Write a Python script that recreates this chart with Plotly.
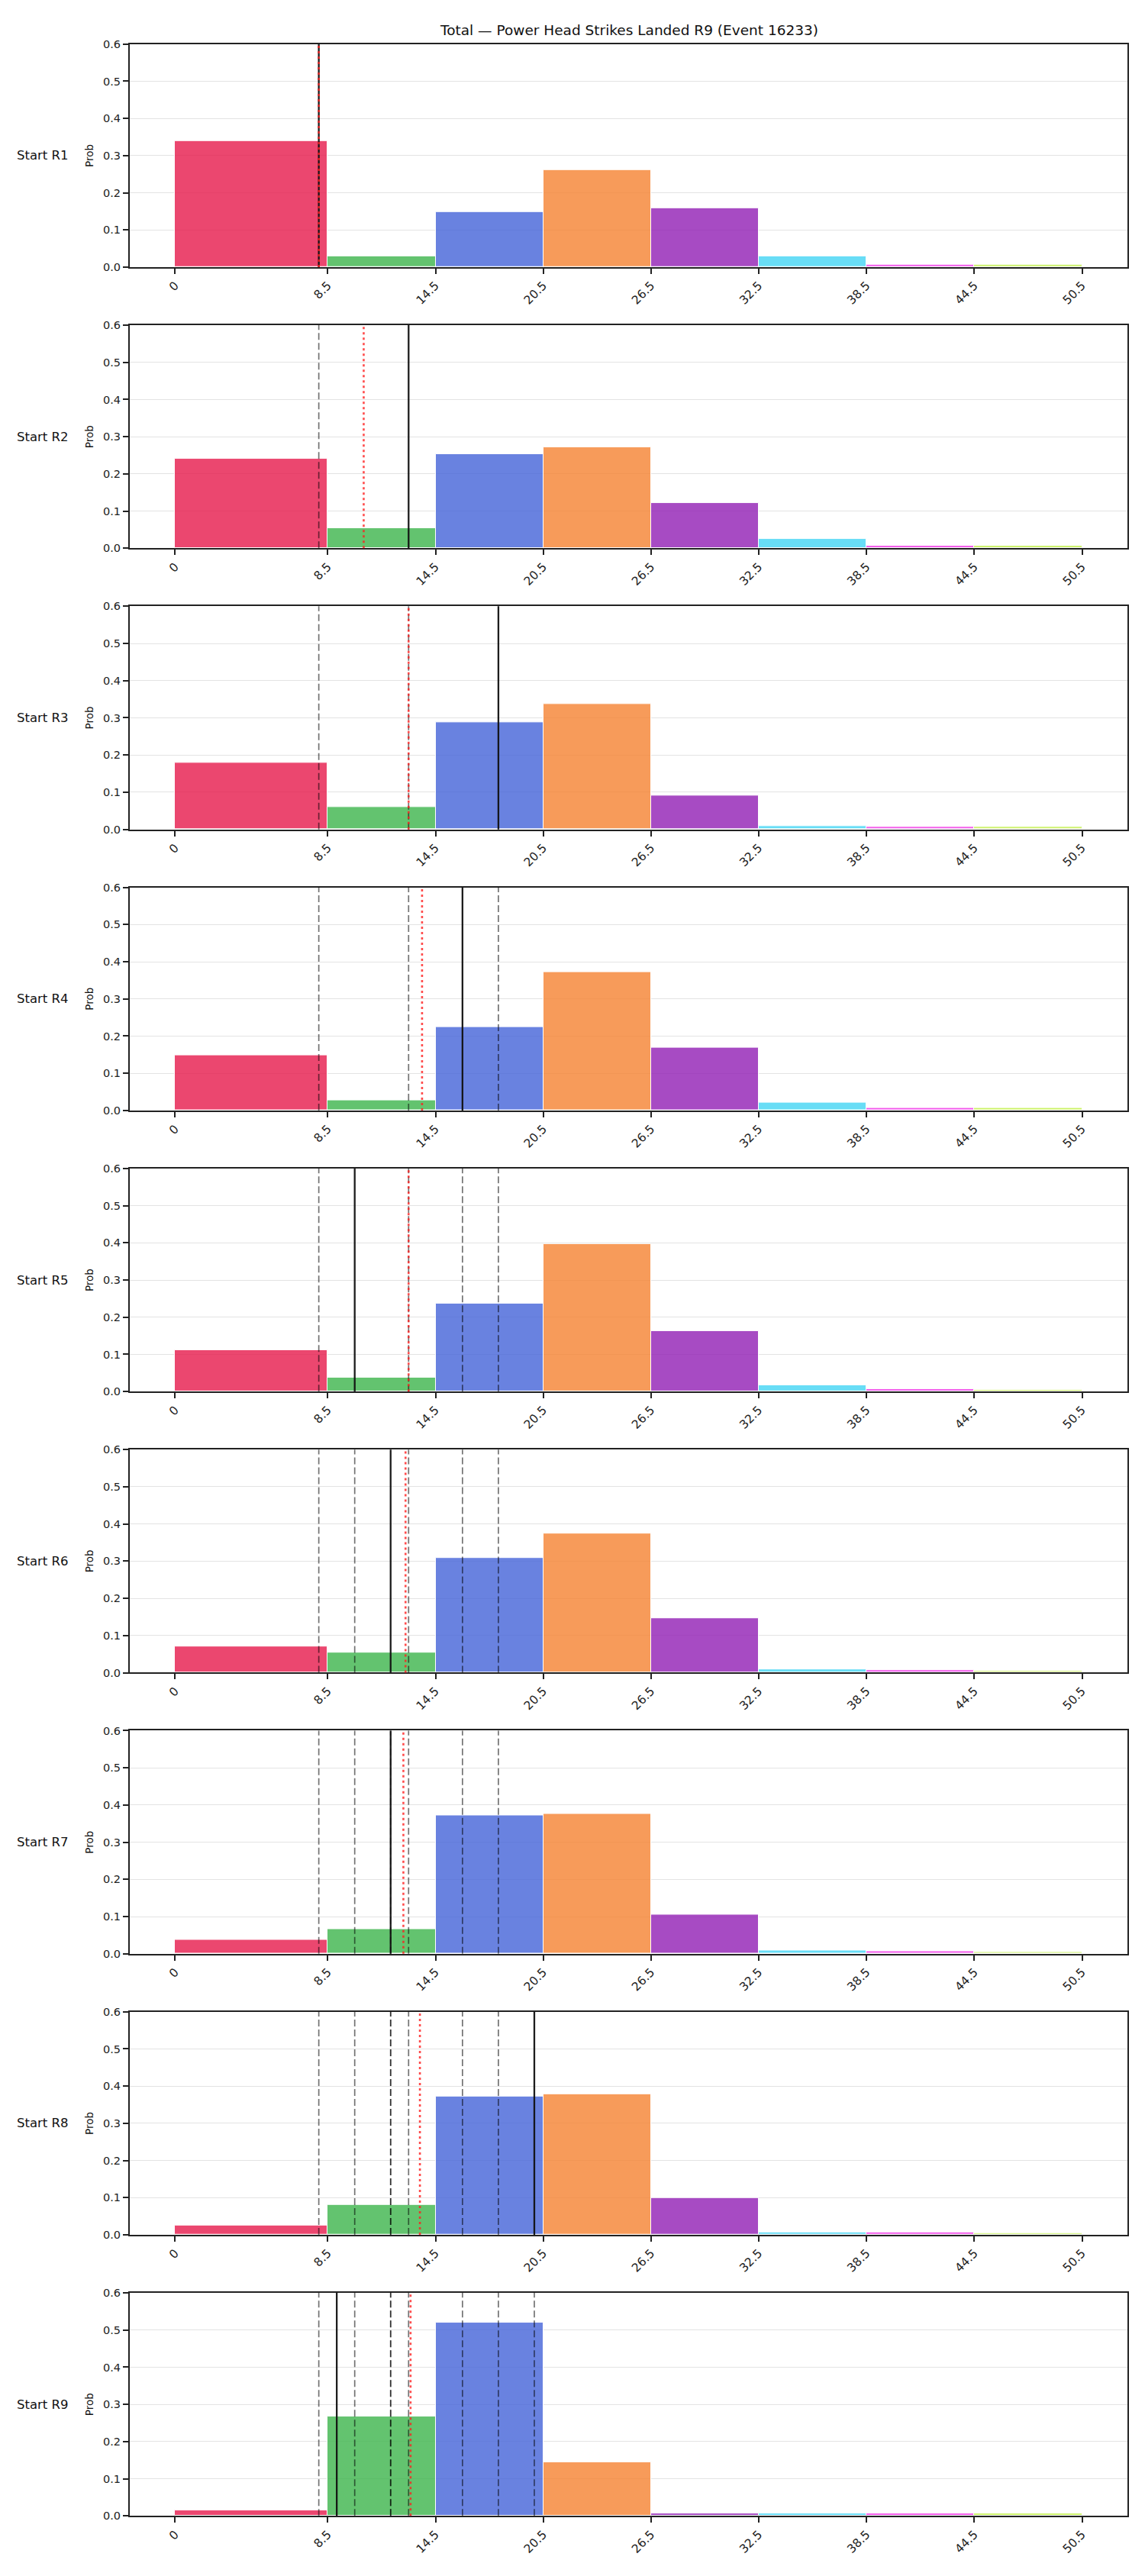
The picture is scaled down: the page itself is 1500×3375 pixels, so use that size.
import plotly.graph_objects as go

# ---------------- data ----------------
bin_edges = [0, 8.5, 14.5, 20.5, 26.5, 32.5, 38.5, 44.5, 50.5]
tick_text = ["0", "8.5", "14.5", "20.5", "26.5", "32.5", "38.5", "44.5", "50.5"]
bin_colors = ["#e6194B", "#3cb44b", "#4363d8", "#f58231",
              "#911eb4", "#42d4f4", "#f032e6", "#bfef45"]

round_labels = ["Start R1", "Start R2", "Start R3", "Start R4", "Start R5",
                "Start R6", "Start R7", "Start R8", "Start R9"]

probs_r1 = [0.339, 0.030, 0.148, 0.261, 0.159, 0.030, 0.0075, 0.0075]
probs_r2 = [0.241, 0.055, 0.253, 0.271, 0.122, 0.026, 0.0075, 0.0075]
probs_r3 = [0.179, 0.061, 0.288, 0.337, 0.090, 0.008, 0.0070, 0.0060]
probs_r4 = [0.149, 0.028, 0.224, 0.372, 0.168, 0.022, 0.0070, 0.0060]
probs_r5 = [0.112, 0.038, 0.237, 0.396, 0.163, 0.018, 0.0070, 0.0050]
probs_r6 = [0.071, 0.055, 0.308, 0.374, 0.146, 0.009, 0.0070, 0.0050]
probs_r7 = [0.038, 0.067, 0.372, 0.376, 0.106, 0.008, 0.0070, 0.0050]
probs_r8 = [0.026, 0.081, 0.372, 0.378, 0.100, 0.007, 0.0070, 0.0050]
probs_r9 = [0.016, 0.268, 0.520, 0.145, 0.0075, 0.0075, 0.0075, 0.0075]
all_probs = [probs_r1, probs_r2, probs_r3, probs_r4, probs_r5,
             probs_r6, probs_r7, probs_r8, probs_r9]

# solid black line per round (actual value of that round)
round_actuals = [8, 13, 18, 16, 10, 12, 12, 20, 9]
# red dotted line per round (running average)
running_avgs = [8.0, 10.5, 13.0, 13.75, 13.0, 12.83, 12.71, 13.63, 13.11]

title_text = "Total \u2014 Power Head Strikes Landed R9 (Event 16233)"

# ---------------- layout helpers ----------------
W, H = 1500, 3375
x_left, x_right = 170, 1477
panel_top0, panel_step, panel_h = 50.0, 370.04, 293.7
FONT = "DejaVu Sans, Liberation Sans, sans-serif"
AXC = "#222222"


def rgba(hexc, a):
    hexc = hexc.lstrip("#")
    r, g, b = int(hexc[0:2], 16), int(hexc[2:4], 16), int(hexc[4:6], 16)
    return f"rgba({r},{g},{b},{a})"


lefts = bin_edges[:-1]
widths = [bin_edges[i + 1] - bin_edges[i] for i in range(len(bin_edges) - 1)]

fig = go.Figure()
shapes = []
annotations = []
layout_axes = {}

n = len(all_probs)
for k in range(n):
    sfx = "" if k == 0 else str(k + 1)
    xa, ya = "x" + sfx, "y" + sfx
    top = panel_top0 + panel_step * k
    bot = top + panel_h
    ydom = [1 - bot / H, 1 - top / H]

    fig.add_trace(go.Bar(
        x=lefts, y=all_probs[k], width=widths, offset=0,
        marker=dict(color=[rgba(c, 0.8) for c in bin_colors],
                    line=dict(color="white", width=1)),
        xaxis=xa, yaxis=ya, showlegend=False, hoverinfo="x+y",
    ))

    layout_axes["xaxis" + sfx] = dict(
        domain=[x_left / W, x_right / W], anchor=ya,
        range=[-2.525, 53.025], tickmode="array",
        tickvals=bin_edges, ticktext=tick_text, tickangle=-45,
        showgrid=False, zeroline=False,
        showline=True, mirror=True, linecolor=AXC, linewidth=2,
        ticks="outside", ticklen=7, tickwidth=1.8, tickcolor=AXC,
        tickfont=dict(family=FONT, size=15.5, color=AXC),
    )
    layout_axes["yaxis" + sfx] = dict(
        domain=ydom, anchor=xa, range=[0, 0.6],
        tickmode="array", tickvals=[0, 0.1, 0.2, 0.3, 0.4, 0.5, 0.6],
        ticktext=["0.0", "0.1", "0.2", "0.3", "0.4", "0.5", "0.6"],
        showgrid=True, gridcolor="rgba(176,176,176,0.35)", gridwidth=1.2,
        zeroline=False, layer="above traces",
        showline=True, mirror=True, linecolor=AXC, linewidth=2,
        ticks="outside", ticklen=7, tickwidth=1.8, tickcolor=AXC,
        tickfont=dict(family=FONT, size=14.5, color=AXC),
    )

    # previous rounds' actuals as gray dashed lines
    for j in range(k):
        v = round_actuals[j]
        shapes.append(dict(type="line", xref=xa, yref=ya + " domain",
                           x0=v, x1=v, y0=0, y1=1,
                           line=dict(color="rgba(0,0,0,0.55)", width=1.7,
                                     dash="9px,4px")))
    # this round's actual: solid black
    v = round_actuals[k]
    shapes.append(dict(type="line", xref=xa, yref=ya + " domain",
                       x0=v, x1=v, y0=0, y1=1,
                       line=dict(color="rgba(17,17,17,0.95)", width=2.3)))
    # running average: red dotted
    v = running_avgs[k]
    shapes.append(dict(type="line", xref=xa, yref=ya + " domain",
                       x0=v, x1=v, y0=0, y1=1,
                       line=dict(color="rgba(255,30,30,0.8)", width=2.6,
                                 dash="3px,4px")))

    ymid = 1 - (top + panel_h / 2) / H
    annotations.append(dict(text=round_labels[k], xref="paper", yref="paper",
                            x=56 / W, y=ymid, xanchor="center", yanchor="middle",
                            showarrow=False,
                            font=dict(family=FONT, size=16.5, color="#111")))
    annotations.append(dict(text="Prob", xref="paper", yref="paper",
                            x=117 / W, y=ymid, xanchor="center", yanchor="middle",
                            textangle=-90, showarrow=False,
                            font=dict(family=FONT, size=13.5, color="#111")))

annotations.append(dict(text=title_text, xref="paper", yref="paper",
                        x=(x_left + x_right) / 2 / W, y=1 - 31.5 / H,
                        xanchor="center", yanchor="middle", showarrow=False,
                        font=dict(family=FONT, size=18.5, color="#111")))

fig.update_layout(
    width=W, height=H,
    margin=dict(l=0, r=0, t=0, b=0),
    paper_bgcolor="white", plot_bgcolor="white",
    shapes=shapes, annotations=annotations,
    bargap=0, showlegend=False,
    **layout_axes,
)

fig.write_html("out.html")
